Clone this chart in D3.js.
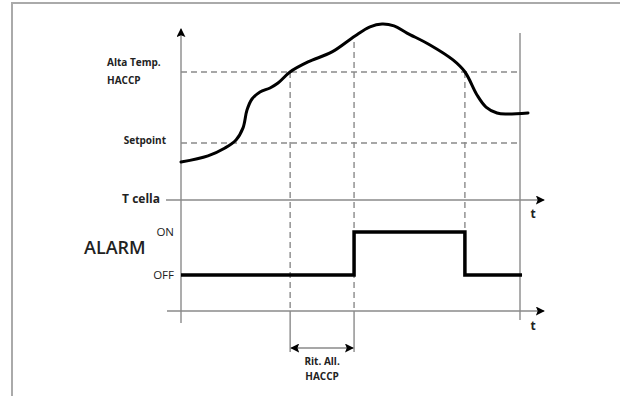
<!DOCTYPE html>
<html><head><meta charset="utf-8">
<script src="https://cdn.jsdelivr.net/npm/d3@7"></script>
<style>html,body{margin:0;padding:0;background:#fff;}svg{display:block;}</style>
</head><body><svg id="c" width="620" height="396"></svg>
<script>
// ---- data ----
// temperature curve: time (0-100 = chart span) vs temperature (arbitrary units)
const curveTime = [0, 7.94, 12.94, 16.18, 18.24, 19.41, 20.88, 23.24, 26.18, 28.53, 32.06, 37.35, 44.41, 51.18, 55.59, 59.12, 62.65, 66.47, 73.24, 80, 83.53, 87.06, 89.71, 92.94, 95.88, 102.06];
const curveTemp = [2.24, 2.6, 3.06, 3.53, 4.24, 5.29, 5.94, 6.35, 6.59, 6.88, 7.53, 8.12, 8.71, 9.65, 10.18, 10.35, 10.24, 9.82, 9.12, 8.24, 7.53, 6.18, 5.47, 5.12, 5.06, 5.12];
const thresholdNames = ["Setpoint", "Alta Temp. HACCP"];
const thresholdValues = [3.35, 7.53];
// alarm state steps: time, state (0 = OFF, 1 = ON)
const alarmTime = [0, 50.9, 83.5, 100.3];
const alarmState = [0, 1, 0, 0];
const alarmLevels = ["OFF", "ON"];
const eventTimes = [32.1, 50.9, 83.5]; // HACCP crossing, alarm start, alarm end
const delayLabel = ["Rit. All.", "HACCP"];

const svg = d3.select("#c");
const x = d3.scaleLinear().domain([0, 100]).range([181, 521]);
const yT = d3.scaleLinear().domain([0, 10]).range([200, 30]);
const yA = d3.scaleLinear().domain([0, 1]).range([275, 232]);
const yAxis2 = 311;

// frame
svg.append("path").attr("d", "M12,396 V3 H620").attr("fill", "none").attr("stroke", "#aaa").attr("stroke-width", 2);

const defs = svg.append("defs");
defs.append("marker").attr("id", "arr").attr("viewBox", "0 0 10 10").attr("refX", 9).attr("refY", 5)
  .attr("markerWidth", 9).attr("markerHeight", 9).attr("markerUnits", "userSpaceOnUse").attr("orient", "auto-start-reverse")
  .append("path").attr("d", "M0,0 L10,5 L0,10 L2,5 Z").attr("fill", "#000");

const gray = "#8a8a8a";
// dashed threshold lines
thresholdValues.forEach(v => {
  svg.append("line").attr("x1", x(0)).attr("x2", x(100)).attr("y1", yT(v)).attr("y2", yT(v))
    .attr("stroke", gray).attr("stroke-width", 1.4).attr("stroke-dasharray", "6,4");
});
// dashed vertical event lines
const evTop = [yT(thresholdValues[1]), yT(9.65) + 6, yT(thresholdValues[1])];
const evBottom = [yAxis2, yAxis2, yA(1)];
eventTimes.forEach((t, i) => {
  svg.append("line").attr("x1", x(t)).attr("x2", x(t)).attr("y1", evTop[i]).attr("y2", evBottom[i])
    .attr("stroke", gray).attr("stroke-width", 1.4).attr("stroke-dasharray", "6,4");
});
// solid extension below lower axis for delay marker
[eventTimes[0], eventTimes[1]].forEach(t => {
  svg.append("line").attr("x1", x(t)).attr("x2", x(t)).attr("y1", yAxis2).attr("y2", 352)
    .attr("stroke", gray).attr("stroke-width", 1.4);
});
// double arrow
svg.append("line").attr("x1", x(eventTimes[0]) + 1).attr("x2", x(eventTimes[1]) - 1).attr("y1", 348).attr("y2", 348)
  .attr("stroke", gray).attr("stroke-width", 1.4).attr("marker-end", "url(#arr)").attr("marker-start", "url(#arr)");
const midX = (x(eventTimes[0]) + x(eventTimes[1])) / 2;
delayLabel.forEach((s, i) => {
  svg.append("text").attr("x", midX).attr("y", 365 + i * 15).attr("text-anchor", "middle")
    .attr("font-family", "Open Sans").attr("font-weight", "bold").attr("font-size", 10).attr("fill", "#222").text(s);
});

// axes
svg.append("line").attr("x1", x(0)).attr("x2", x(0)).attr("y1", 323).attr("y2", 29)
  .attr("stroke", gray).attr("stroke-width", 1.4).attr("marker-end", "url(#arr)");
svg.append("line").attr("x1", 166).attr("x2", 544).attr("y1", yT(0)).attr("y2", yT(0))
  .attr("stroke", gray).attr("stroke-width", 1.4).attr("marker-end", "url(#arr)");
svg.append("line").attr("x1", 167).attr("x2", 544).attr("y1", yAxis2).attr("y2", yAxis2)
  .attr("stroke", gray).attr("stroke-width", 1.4).attr("marker-end", "url(#arr)");
svg.append("line").attr("x1", x(100) - 1).attr("x2", x(100) - 1).attr("y1", 33).attr("y2", 320)
  .attr("stroke", gray).attr("stroke-width", 1.4);

// temperature curve
const pts = curveTime.map((t, i) => [t, curveTemp[i]]);
svg.append("path").datum(pts)
  .attr("d", d3.line().x(d => x(d[0])).y(d => yT(d[1])).curve(d3.curveCatmullRom.alpha(0.5)))
  .attr("fill", "none").attr("stroke", "#000").attr("stroke-width", 3).attr("stroke-linecap", "round");

// alarm step line
const aPts = alarmTime.map((t, i) => [t, alarmState[i]]);
svg.append("path").datum(aPts)
  .attr("d", d3.line().x(d => x(d[0])).y(d => yA(d[1])).curve(d3.curveStepAfter))
  .attr("fill", "none").attr("stroke", "#000").attr("stroke-width", 3.5);

// labels
const lab = (txt, px, py, opt) => svg.append("text").attr("x", px).attr("y", py)
  .attr("font-family", "Open Sans").attr("font-size", opt.size).attr("font-weight", opt.w || "normal")
  .attr("text-anchor", opt.a || "start").attr("fill", opt.c || "#222").text(txt);
lab("Alta Temp.", 107, 66, {size: 10, w: "bold"});
lab("HACCP", 107, 84, {size: 10, w: "bold"});
lab(thresholdNames[0], 166, 144, {size: 10, w: "bold", a: "end"});
lab("T cella", 160, 203, {size: 12, w: "bold", a: "end"});
lab("ALARM", 84, 254, {size: 18, w: 600});
lab(alarmLevels[1], 174, 236, {size: 11.5, a: "end"});
lab(alarmLevels[0], 174, 279, {size: 11.5, a: "end"});
lab("t", 533, 218, {size: 12, w: "bold", a: "middle"});
lab("t", 533, 330, {size: 12, w: "bold", a: "middle"});
</script></body></html>
